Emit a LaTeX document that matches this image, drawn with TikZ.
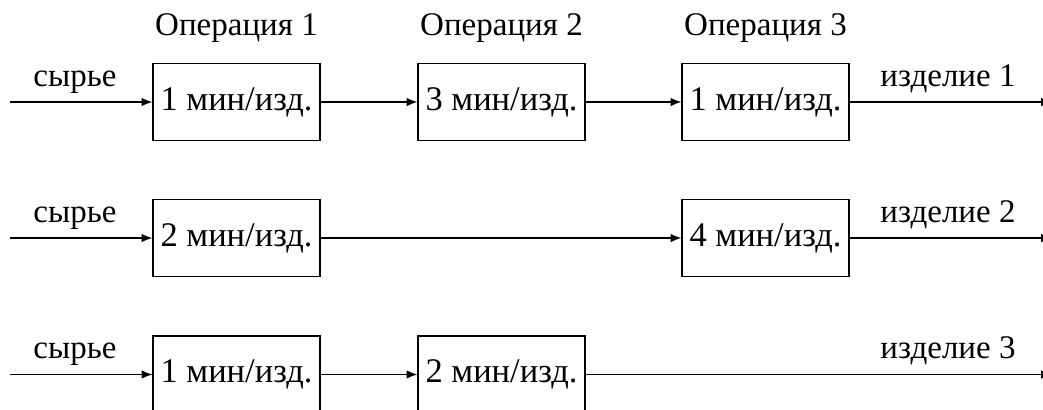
\documentclass[tikz,border=0pt]{standalone}
\usepackage{fontspec}
\setmainfont{Liberation Serif}
\usetikzlibrary{arrows.meta}
\tikzset{
  opbox/.style={draw, line width=0.4pt, minimum width=55.67pt, minimum height=25.67pt,
    inner sep=0pt, font=\fontsize{11.5}{13}\selectfont},
  flow/.style={line width=0.4pt, -{Latex[length=3.6pt,width=2.8pt]}},
  lbl/.style={anchor=base, inner sep=0pt, font=\fontsize{11}{13}\selectfont},
}
\begin{document}
\begin{tikzpicture}[x=0.3333pt, y=-0.3333pt]
  \useasboundingbox (0,0) rectangle (1043,409);

  % column headings
  \node[lbl] (h1) at (236.5,35) {Операция 1};
  \node[lbl] (h2) at (501.5,35) {Операция 2};
  \node[lbl] (h3) at (765.5,35) {Операция 3};

  % row 1
  \node[opbox] (a1) at (236.5,102) {1 мин/изд.};
  \node[opbox] (a2) at (501.5,102) {3 мин/изд.};
  \node[opbox] (a3) at (765.5,102) {1 мин/изд.};
  \coordinate (ain) at (10,102);
  \coordinate (aout) at (1052,102);
  \node[lbl] (ra) at (75,86) {сырье};
  \node[lbl] (pa) at (948,86) {изделие 1};
  \draw[flow] (ain) -- (a1);
  \draw[flow] (a1) -- (a2);
  \draw[flow] (a2) -- (a3);
  \draw[flow] (a3) -- (aout);

  % row 2
  \node[opbox] (b1) at (236.5,238) {2 мин/изд.};
  \node[opbox] (b3) at (765.5,238) {4 мин/изд.};
  \coordinate (bin) at (10,238);
  \coordinate (bout) at (1052,238);
  \node[lbl] (rb) at (75,222) {сырье};
  \node[lbl] (pb) at (948,222) {изделие 2};
  \draw[flow] (bin) -- (b1);
  \draw[flow] (b1) -- (b3);
  \draw[flow] (b3) -- (bout);

  % row 3
  \node[opbox] (c1) at (236.5,374.5) {1 мин/изд.};
  \node[opbox] (c2) at (501.5,374.5) {2 мин/изд.};
  \coordinate (cin) at (10,374.5);
  \coordinate (cout) at (1052,374.5);
  \node[lbl] (rc) at (75,358.5) {сырье};
  \node[lbl] (pc) at (948,358.5) {изделие 3};
  \draw[flow] (cin) -- (c1);
  \draw[flow] (c1) -- (c2);
  \draw[flow] (c2) -- (cout);
\end{tikzpicture}
\end{document}
